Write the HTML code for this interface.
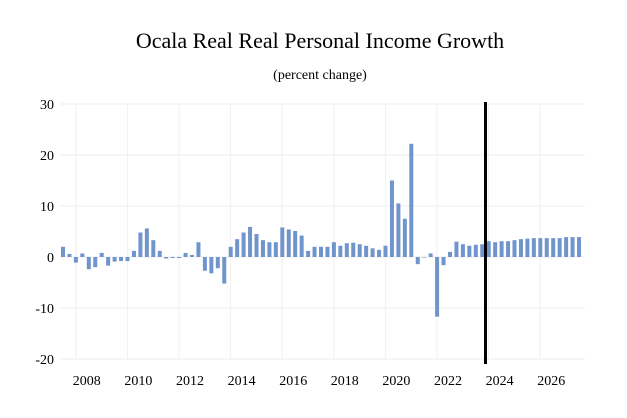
<!DOCTYPE html>
<html><head><meta charset="utf-8"><style>
body{margin:0;background:#fff;}
svg text{font-family:"Liberation Serif",serif;fill:#000;}
</style></head><body>
<svg width="627" height="413">
<text x="320" y="48" text-anchor="middle" font-size="22">Ocala Real Real Personal Income Growth</text>
<text x="320" y="79" text-anchor="middle" font-size="14">(percent change)</text>
<g id="grid"></g><g id="bars"></g><g id="axes"></g>
<line x1="485.5" x2="485.5" y1="102" y2="364" stroke="#000" stroke-width="3"/>
</svg>
<script>
const values=[2.0,0.6,-1.1,0.7,-2.4,-2.0,0.8,-1.7,-0.9,-0.8,-0.8,1.2,4.8,5.6,3.3,1.2,-0.3,-0.2,-0.2,0.8,0.4,2.9,-2.7,-3.2,-2.2,-5.2,2.0,3.5,
4.8,5.9,4.5,3.3,2.9,2.9,5.8,5.4,5.1,4.2,1.2,2.0,2.0,2.0,2.9,2.2,2.7,2.8,2.5,2.2,
1.7,1.4,2.2,15,10.5,7.5,22.2,-1.4,0,0.7,-11.7,-1.6,1.0,3.0,2.5,2.2,2.4,2.5,3.1,2.9,3.1,3.1,3.3,3.5,3.6,3.7,3.7,3.7,3.7,3.7,3.9,3.9,3.9];
const yTicks=[30,20,10,0,-10,-20];
const xYears=[2008,2010,2012,2014,2016,2018,2020,2022,2024,2026];
const startYear=2007;
const NS="http://www.w3.org/2000/svg";
function y(v){return 257-v*5.1;}
function xi(i){return 63+i*6.45;}
function xYear(yr){return xi((yr-startYear)*4)-2;}
const grid=document.getElementById('grid'),bars=document.getElementById('bars'),axes=document.getElementById('axes');
function mk(tag,attrs,parent){const e=document.createElementNS(NS,tag);for(const k in attrs)e.setAttribute(k,attrs[k]);parent.appendChild(e);return e;}
yTicks.forEach(t=>{
 const l=mk('line',{x1:60,x2:585,y1:y(t),y2:y(t),stroke:'#ececec','stroke-width':1},grid);
 
 
 const tx=mk('text',{x:54,y:y(t)+5,'text-anchor':'end','font-size':14},axes);
 tx.textContent=t;
 
 
});
xYears.forEach(yr=>{
 const gx=xYear(yr)-11;
 const l=mk('line',{x1:gx,x2:gx,y1:104,y2:y(-20),stroke:'#f0f0f0','stroke-width':1},grid);
 
 
 const tx=mk('text',{x:xYear(yr),y:385,'text-anchor':'middle','font-size':14},axes);
 tx.textContent=yr;
 
 
});
values.forEach((v,i)=>{
 const top=Math.min(y(v),y(0)),h=Math.max(Math.abs(y(v)-y(0)),0.6);
 const r=mk('rect',{x:xi(i)-2,y:top,width:4,height:h,fill:'#7094cc'},bars);
 
 
});
</script>
</body></html>
